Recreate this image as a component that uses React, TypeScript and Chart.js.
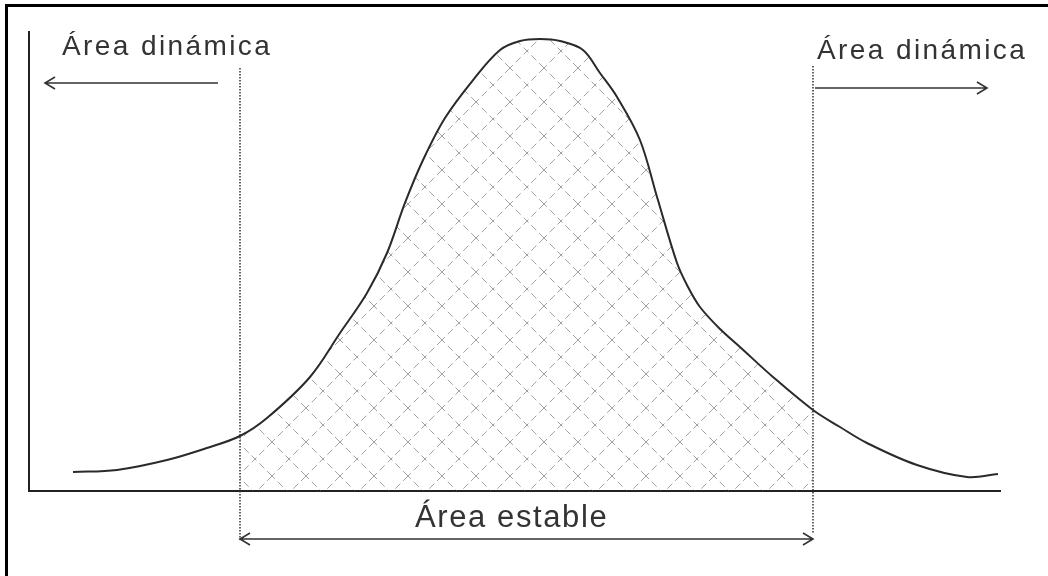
import React, { useEffect, useRef } from "react";
import { Chart, registerables } from "chart.js";

Chart.register(...registerables);

// Curve (abstract units: x 0..100, y 0..100)
const curveX = [4.53, 9.06, 14.21, 18.33, 21.73, 24.51, 28.94, 32.03, 34.81, 36.87, 38.72, 40.58, 42.84, 45.73, 48.51, 50.57, 52.63, 54.69, 57.05, 58.8, 60.56, 62.92, 64.68, 66.74, 67.87, 69.1, 71.17, 73.22, 76.62, 80.74, 83.52, 86.3, 91.45, 96.6, 99.79];
const curveY = [4.14, 4.58, 6.75, 9.37, 11.98, 15.9, 24.84, 34.42, 43.14, 51.85, 62.75, 72.11, 81.26, 89.54, 96.08, 98.04, 98.47, 98.04, 96.08, 91.07, 85.84, 76.47, 64.05, 49.67, 44.44, 40.09, 35.29, 31.37, 24.84, 17.65, 13.94, 10.46, 5.66, 3.05, 3.7];

// Bounds of the stable (hatched) area
const stableBounds = [21.73, 80.74];

const labelDynamic = "Área dinámica";
const labelStable = "Área estable";

function makeHatch(): CanvasPattern | string {
  const s = 34;
  const c = document.createElement("canvas");
  c.width = s;
  c.height = s;
  const g = c.getContext("2d");
  if (!g) return "rgba(0,0,0,0)";
  g.strokeStyle = "rgba(100,100,100,0.6)";
  g.lineWidth = 1;
  g.setLineDash([7, 4]);
  g.beginPath();
  g.moveTo(-2, -2);
  g.lineTo(s + 2, s + 2);
  g.moveTo(-2, s + 2);
  g.lineTo(s + 2, -2);
  g.stroke();
  const p = g.createPattern(c, "repeat");
  return p || "rgba(0,0,0,0)";
}

const annotations = {
  id: "annotations",
  afterDraw(chart: any) {
    const { ctx, scales } = chart;
    const xs = scales.x;
    const xl = xs.getPixelForValue(stableBounds[0]);
    const xr = xs.getPixelForValue(stableBounds[1]);
    ctx.save();
    // dotted verticals
    ctx.strokeStyle = "#333";
    ctx.lineWidth = 1.5;
    ctx.setLineDash([1.5, 1.5]);
    ctx.beginPath();
    ctx.moveTo(xl, 68);
    ctx.lineTo(xl, 540);
    ctx.moveTo(xr, 66);
    ctx.lineTo(xr, 534);
    ctx.stroke();
    ctx.setLineDash([]);

    // arrows
    const arrow = (x1: number, x2: number, y: number, left: boolean, right: boolean) => {
      ctx.strokeStyle = "#333";
      ctx.lineWidth = 1.6;
      ctx.beginPath();
      ctx.moveTo(x1, y);
      ctx.lineTo(x2, y);
      if (left) {
        ctx.moveTo(x1 + 10, y - 6);
        ctx.lineTo(x1, y);
        ctx.lineTo(x1 + 10, y + 6);
      }
      if (right) {
        ctx.moveTo(x2 - 10, y - 6);
        ctx.lineTo(x2, y);
        ctx.lineTo(x2 - 10, y + 6);
      }
      ctx.stroke();
    };
    arrow(45, 218, 83, true, false);
    arrow(xr + 2, 987, 88, false, true);
    arrow(xl, xr, 539, true, true);

    // labels
    ctx.fillStyle = "#333";
    ctx.textAlign = "left";
    ctx.textBaseline = "alphabetic";
    ctx.font = "28px 'Liberation Sans', Arial, sans-serif";
    (ctx as any).letterSpacing = "2.4px";
    ctx.fillText(labelDynamic, 62, 55);
    ctx.fillText(labelDynamic, 817, 59);
    ctx.font = "31px 'Liberation Sans', Arial, sans-serif";
    (ctx as any).letterSpacing = "1.6px";
    ctx.fillText(labelStable, 415, 527);
    (ctx as any).letterSpacing = "0px";
    ctx.restore();
  },
};

export default function App() {
  const ref = useRef<HTMLCanvasElement | null>(null);

  useEffect(() => {
    if (!ref.current) return;
    const curve = curveX.map((x, i) => ({ x, y: curveY[i] }));
    const stable = curve.filter((p) => p.x >= stableBounds[0] && p.x <= stableBounds[1]);
    const chart = new Chart(ref.current, {
      type: "line",
      data: {
        datasets: [
          {
            data: stable,
            borderWidth: 0,
            borderColor: "rgba(0,0,0,0)",
            backgroundColor: makeHatch() as any,
            fill: "origin",
            pointRadius: 0,
            tension: 0.35,
            order: 2,
          },
          {
            data: curve,
            borderColor: "#2a2a2a",
            borderWidth: 2,
            fill: false,
            pointRadius: 0,
            tension: 0.35,
            order: 1,
          },
        ],
      },
      options: {
        animation: false,
        responsive: false,
        events: [],
        layout: { padding: { left: 29, right: 48, top: 32, bottom: 85 } },
        plugins: { legend: { display: false }, tooltip: { enabled: false } },
        scales: {
          x: {
            type: "linear",
            min: 0,
            max: 100,
            grid: { display: false, drawTicks: false },
            ticks: { display: false },
            border: { display: true, color: "#222", width: 2 },
          },
          y: {
            type: "linear",
            min: 0,
            max: 100,
            grid: { display: false, drawTicks: false },
            ticks: { display: false },
            border: { display: true, color: "#222", width: 2 },
          },
        },
      },
      plugins: [annotations],
    });
    return () => chart.destroy();
  }, []);

  return (
    <div style={{ position: "fixed", left: 0, top: 0, width: 1048, height: 576, background: "#fff", overflow: "hidden" }}>
      <canvas ref={ref} width={1048} height={576} style={{ position: "absolute", left: 0, top: 0 }} />
      <div style={{ position: "absolute", left: 5, top: 4, width: 1043, height: 3, background: "#000" }} />
      <div style={{ position: "absolute", left: 5, top: 4, width: 3, height: 572, background: "#000" }} />
    </div>
  );
}
